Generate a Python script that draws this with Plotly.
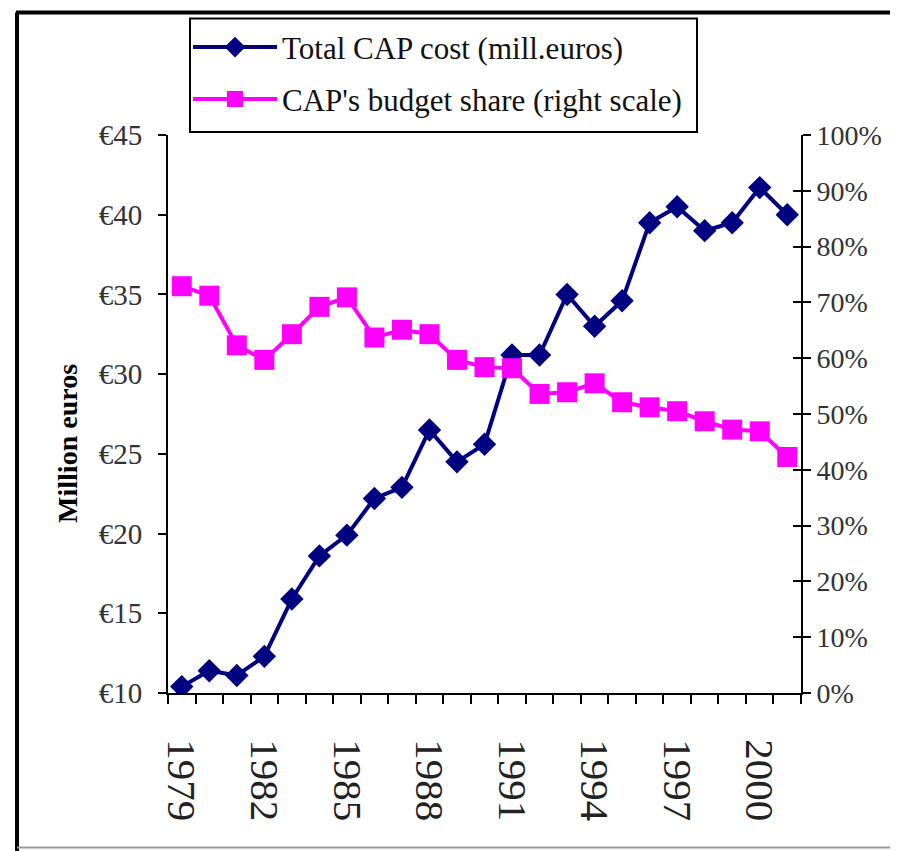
import plotly.graph_objects as go

years = list(range(1979, 2002))
cap_cost = [10.4, 11.4, 11.1, 12.3, 15.9, 18.6, 19.9, 22.2, 22.9, 26.5, 24.5, 25.6,
            31.2, 31.2, 35.0, 33.0, 34.6, 39.5, 40.5, 39.0, 39.5, 41.7, 40.0]
budget_share = [0.729, 0.712, 0.623, 0.597, 0.643, 0.692, 0.709, 0.637, 0.651, 0.643,
                0.597, 0.584, 0.582, 0.536, 0.539, 0.555, 0.521, 0.512, 0.505, 0.487,
                0.472, 0.469, 0.423]
year_ticks = [1979, 1982, 1985, 1988, 1991, 1994, 1997, 2000]
left_ticks = [10, 15, 20, 25, 30, 35, 40, 45]
right_ticks = [0, 0.1, 0.2, 0.3, 0.4, 0.5, 0.6, 0.7, 0.8, 0.9, 1.0]

# page body has an 8px margin; work in page coordinates and shift
OFF = 8
W, H = 898, 851
L, R, T, B = 168 - OFF, 801 - OFF, 133 - OFF, 693 - OFF

def px(x):
    return (x - OFF - L) / (R - L)

def py(y):
    return (B - (y - OFF)) / (B - T)

FONT = "Liberation Serif"

fig = go.Figure()
fig.add_trace(go.Scatter(
    x=years, y=cap_cost, name="Total CAP cost (mill.euros)",
    mode="lines+markers", line=dict(color="#000080", width=4),
    marker=dict(symbol="diamond", size=18, color="#000080"),
    yaxis="y", legend="legend"))
fig.add_trace(go.Scatter(
    x=years, y=budget_share, name="CAP's budget share (right scale)",
    mode="lines+markers", line=dict(color="#FF00FF", width=4),
    marker=dict(symbol="square", size=20, color="#FF00FF"),
    yaxis="y2", legend="legend2"))
fig.add_trace(go.Scatter(x=[years[0]], y=[0], yaxis="y3", mode="markers",
                         marker=dict(opacity=0), showlegend=False, hoverinfo="skip"))

fig.update_layout(
    width=W, height=H,
    margin=dict(l=L, r=W - R, t=T, b=H - B, pad=0),
    paper_bgcolor="white", plot_bgcolor="white",
    font=dict(family=FONT, color="black"),
    xaxis=dict(
        range=[1978.5, 2001.5], tickmode="array", tickvals=year_ticks,
        ticktext=[str(y) for y in year_ticks], tickangle=90,
        ticks="outside", ticklen=36, tickcolor="rgba(0,0,0,0)",
        tickfont=dict(family=FONT, size=41, color="#222"),
        showline=True, linecolor="black", linewidth=2, showgrid=False, zeroline=False,
        minor=dict(tickmode="linear", tick0=1978.5, dtick=1, ticks="outside",
                   ticklen=9, tickcolor="black", tickwidth=2, showgrid=False)),
    yaxis=dict(
        range=[10, 45], tickmode="array", tickvals=left_ticks,
        ticktext=["€%d" % v for v in left_ticks],
        ticks="outside", ticklen=8, tickwidth=2, tickcolor="black",
        ticklabelstandoff=10,
        tickfont=dict(family=FONT, size=29, color="#333"),
        showline=True, linecolor="black", linewidth=2, showgrid=False, zeroline=False),
    yaxis2=dict(
        range=[0, 1], overlaying="y", side="right", tickmode="array",
        tickvals=right_ticks, ticktext=["%d%%" % round(v * 100) for v in right_ticks],
        ticks="outside", ticklen=8, tickwidth=2, tickcolor="black",
        tickfont=dict(family=FONT, size=28, color="#333"),
        showline=True, linecolor="black", linewidth=2, showgrid=False, zeroline=False),
    yaxis3=dict(
        range=[0, 1], overlaying="y", side="right", tickmode="array",
        tickvals=right_ticks, showticklabels=False,
        ticks="inside", ticklen=8, tickwidth=2, tickcolor="black",
        showline=False, showgrid=False, zeroline=False),
    legend=dict(x=px(188), y=py(18), xanchor="left", yanchor="top",
                bgcolor="rgba(0,0,0,0)", borderwidth=0, itemwidth=84,
                font=dict(family=FONT, size=31, color="#111")),
    legend2=dict(x=px(188), y=py(70), xanchor="left", yanchor="top",
                 bgcolor="rgba(0,0,0,0)", borderwidth=0, itemwidth=84,
                 font=dict(family=FONT, size=31, color="#111")),
    shapes=[
        dict(type="rect", xref="paper", yref="paper", x0=px(190), x1=px(697),
             y0=py(130), y1=py(16), line=dict(color="black", width=2)),
        dict(type="line", xref="paper", yref="paper", x0=px(16), x1=px(910),
             y0=py(10), y1=py(10), line=dict(color="black", width=4)),
        dict(type="line", xref="paper", yref="paper", x0=px(17), x1=px(17),
             y0=py(10), y1=py(860), line=dict(color="black", width=4)),
        dict(type="line", xref="paper", yref="paper", x0=px(17), x1=px(910),
             y0=py(848), y1=py(848), line=dict(color="#999", width=2)),
    ],
    annotations=[
        dict(text="<b>Million euros</b>", xref="paper", yref="paper",
             x=px(68), y=py(443), textangle=-90, showarrow=False,
             font=dict(family=FONT, size=28, color="black"),
             xanchor="center", yanchor="middle"),
    ],
)

fig.write_html("out.html")
